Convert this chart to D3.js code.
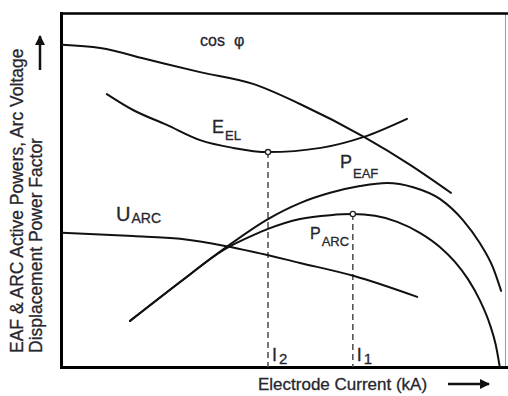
<!DOCTYPE html>
<html>
<head>
<meta charset="utf-8">
<script src="https://cdn.jsdelivr.net/npm/d3@7"></script>
<style>
  html, body { margin: 0; padding: 0; background: #fff; }
  svg { display: block; font-family: "Liberation Sans", Arial, sans-serif; }
  .curve { fill: none; stroke: #111; stroke-width: 2; stroke-linecap: round; stroke-linejoin: round; }
  .lbl { fill: #26262e; stroke: #26262e; stroke-width: 0.3; }
</style>
</head>
<body>
<svg id="chart" width="508" height="396"></svg>
<script>
// Electrode current in arbitrary kA units (0..10), quantities normalised to 0..1
const cosPhiX = [0, 0.86, 1.98, 3.11, 4.32, 5.36, 6.80, 7.84, 8.76];
const cosPhiY = [0.910, 0.901, 0.867, 0.833, 0.799, 0.743, 0.650, 0.571, 0.492];

const eElX = [1.01, 1.60, 2.36, 3.11, 3.85, 4.64, 5.83, 6.80, 7.77];
const eElY = [0.771, 0.726, 0.684, 0.641, 0.619, 0.607, 0.619, 0.650, 0.701];

const uArcX = [0, 1.60, 2.66, 3.67, 4.32, 5.36, 6.58, 8.00];
const uArcY = [0.379, 0.370, 0.362, 0.342, 0.325, 0.294, 0.257, 0.198];

const pEafX = [1.53, 2.66, 3.67, 4.64, 5.36, 6.04, 6.71, 7.32, 7.91, 8.51, 9.03, 9.41, 9.71, 9.89];
const pEafY = [0.130, 0.240, 0.336, 0.418, 0.463, 0.492, 0.511, 0.520, 0.508, 0.475, 0.415, 0.350, 0.280, 0.215];

const pArcX = [1.53, 2.66, 3.67, 4.32, 4.64, 5.36, 6.04, 6.55, 7.05, 7.55, 8.06, 8.51, 8.85, 9.14, 9.41, 9.64, 9.77, 9.86];
const pArcY = [0.130, 0.240, 0.333, 0.373, 0.390, 0.418, 0.429, 0.432, 0.427, 0.410, 0.379, 0.339, 0.297, 0.249, 0.189, 0.119, 0.062, 0.0];

// Operating currents: I2 at the E_EL minimum, I1 at the P_ARC maximum
const currentLabels = ["2", "1"];
const currentX = [4.64, 6.55];
const currentY = [0.607, 0.432];

const svg = d3.select("#chart");

const x = d3.scaleLinear().domain([0, 10]).range([62, 506]);
const y = d3.scaleLinear().domain([0, 1]).range([367, 13]);

const zip = (xs, ys) => xs.map((v, i) => [v, ys[i]]);
const line = d3.line()
  .x(d => x(d[0]))
  .y(d => y(d[1]))
  .curve(d3.curveMonotoneX);

// Frame: heavy left/bottom/top edges, thin grey right edge
svg.append("line").attr("x1", 505.5).attr("x2", 505.5).attr("y1", 13).attr("y2", 367)
  .attr("stroke", "#999").attr("stroke-width", 1);
svg.append("line").attr("x1", 60).attr("x2", 508).attr("y1", 13.5).attr("y2", 13.5)
  .attr("stroke", "#000").attr("stroke-width", 2.5);

const xAxis = d3.axisBottom(x).tickValues([]).tickSizeOuter(0);
const yAxis = d3.axisLeft(y).tickValues([]).tickSizeOuter(0);
svg.append("g").attr("transform", "translate(0,367.5)").call(xAxis)
  .call(g => g.select(".domain").attr("stroke", "#000").attr("stroke-width", 3)
    .attr("d", "M60,0H508"));
svg.append("g").attr("transform", "translate(61.5,0)").call(yAxis)
  .call(g => g.select(".domain").attr("stroke", "#000").attr("stroke-width", 3)
    .attr("d", "M0,12V369"));

// Dashed drop lines for I2 and I1
svg.selectAll(".drop").data(currentX).enter().append("line")
  .attr("class", "drop")
  .attr("x1", d => x(d)).attr("x2", d => x(d))
  .attr("y1", (d, i) => y(currentY[i])).attr("y2", y(0))
  .attr("stroke", "#555").attr("stroke-width", 1.6)
  .attr("stroke-dasharray", "6,4");

// Curves
const curves = [
  zip(cosPhiX, cosPhiY),
  zip(eElX, eElY),
  zip(uArcX, uArcY),
  zip(pEafX, pEafY),
  zip(pArcX, pArcY)
];
svg.selectAll(".curve").data(curves).enter().append("path")
  .attr("class", "curve")
  .attr("d", line);

// Operating point markers
svg.selectAll(".pt").data(currentX).enter().append("circle")
  .attr("class", "pt")
  .attr("cx", d => x(d)).attr("cy", (d, i) => y(currentY[i]))
  .attr("r", 2.6).attr("fill", "#fff").attr("stroke", "#222").attr("stroke-width", 1.3);

// Curve labels
function subLabel(px, py, main, sub, mainSize, subSize, subDy) {
  const t = svg.append("text").attr("class", "lbl").attr("x", px).attr("y", py)
    .style("font-size", mainSize + "px").text(main);
  t.append("tspan").attr("dx", 1).attr("dy", subDy).style("font-size", subSize + "px").text(sub);
}

const cos = svg.append("text").attr("class", "lbl").attr("x", 200).attr("y", 46)
  .style("font-size", "16px").text("cos");
cos.append("tspan").attr("dx", 9).text("φ");

subLabel(212, 133, "E", "EL", 18, 13, 7);
subLabel(340, 168, "P", "EAF", 18, 13, 10);
subLabel(116, 221, "U", "ARC", 20, 14, 2);
subLabel(310, 239, "P", "ARC", 16, 13, 7);

svg.selectAll(".ilbl").data(currentX).enter().append("text")
  .attr("class", "lbl ilbl")
  .attr("x", d => x(d) + 4).attr("y", 361)
  .style("font-size", "18px")
  .text("I")
  .append("tspan").attr("dx", 2).attr("dy", 3).style("font-size", "15px")
  .text((d, i) => currentLabels[i]);

// Axis titles
svg.append("text").attr("class", "lbl")
  .attr("transform", "translate(23,353) rotate(-90)")
  .style("font-size", "17.5px")
  .text("EAF & ARC Active Powers, Arc Voltage");
svg.append("text").attr("class", "lbl")
  .attr("transform", "translate(42,353) rotate(-90)")
  .style("font-size", "17.5px")
  .text("Displacement Power Factor");

svg.append("text").attr("class", "lbl")
  .attr("x", 258).attr("y", 390)
  .style("font-size", "17px")
  .text("Electrode Current (kA)");

// Direction arrows
const defs = svg.append("defs");
defs.append("marker").attr("id", "ah")
  .attr("viewBox", "0 0 10 10").attr("refX", 9).attr("refY", 5)
  .attr("markerWidth", 4).attr("markerHeight", 4).attr("orient", "auto")
  .append("path").attr("d", "M0,0L10,5L0,10z").attr("fill", "#111");

svg.append("line").attr("x1", 448).attr("x2", 489).attr("y1", 384).attr("y2", 384)
  .attr("stroke", "#111").attr("stroke-width", 2.5).attr("marker-end", "url(#ah)");
svg.append("line").attr("x1", 40).attr("x2", 40).attr("y1", 70).attr("y2", 36)
  .attr("stroke", "#111").attr("stroke-width", 2.5).attr("marker-end", "url(#ah)");
</script>
</body>
</html>
